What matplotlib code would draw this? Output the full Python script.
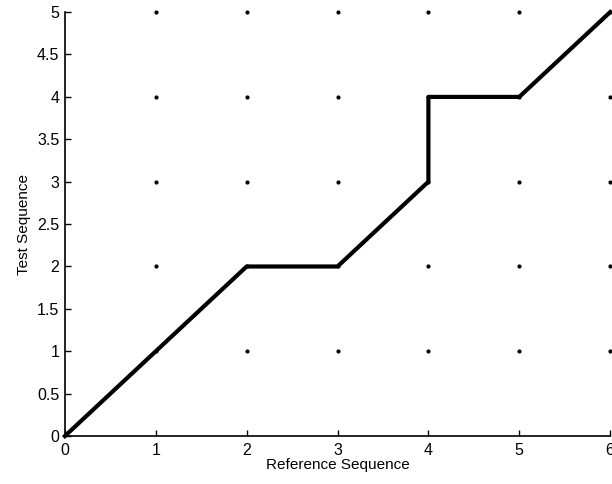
import numpy as np
import matplotlib.pyplot as plt

plt.rcParams['font.family'] = ['Liberation Sans', 'DejaVu Sans']

# warping path (reference index, test index)
path_x = [0, 1, 2, 3, 4, 4, 5, 6]
path_y = [0, 1, 2, 2, 3, 4, 4, 5]

grid_x = [1, 2, 3, 4, 5, 6]
grid_y = [1, 2, 3, 4, 5]
xticks = [0, 1, 2, 3, 4, 5, 6]
yticks = [0, 0.5, 1, 1.5, 2, 2.5, 3, 3.5, 4, 4.5, 5]

fig = plt.figure(figsize=(6.12, 4.84), dpi=100)
ax = fig.add_axes([0.106, 0.099, 0.891, 0.876])

gx, gy = np.meshgrid(grid_x, grid_y)
ax.scatter(gx.ravel(), gy.ravel(), s=4, color='black', zorder=2, clip_on=False)
ax.plot(path_x, path_y, color='black', linewidth=3, zorder=3, clip_on=False)

ax.set_xlim(0, 6)
ax.set_ylim(0, 5)
ax.set_xticks(xticks)
ax.set_yticks(yticks)
ax.set_xticklabels([str(t) for t in xticks])
ax.set_yticklabels(['%g' % t for t in yticks])
ax.spines['top'].set_visible(False)
ax.spines['right'].set_visible(False)
ax.spines['left'].set_linewidth(1.2)
ax.spines['bottom'].set_linewidth(1.2)
ax.tick_params(direction='in', length=4, width=1, labelsize=11.5)
ax.tick_params(axis='x', pad=5)
ax.tick_params(axis='y', pad=4)
ax.set_xlabel('Reference Sequence', fontsize=11, labelpad=0)
ax.set_ylabel('Test Sequence', fontsize=11, labelpad=4)

fig.savefig('out.png', dpi=100)
